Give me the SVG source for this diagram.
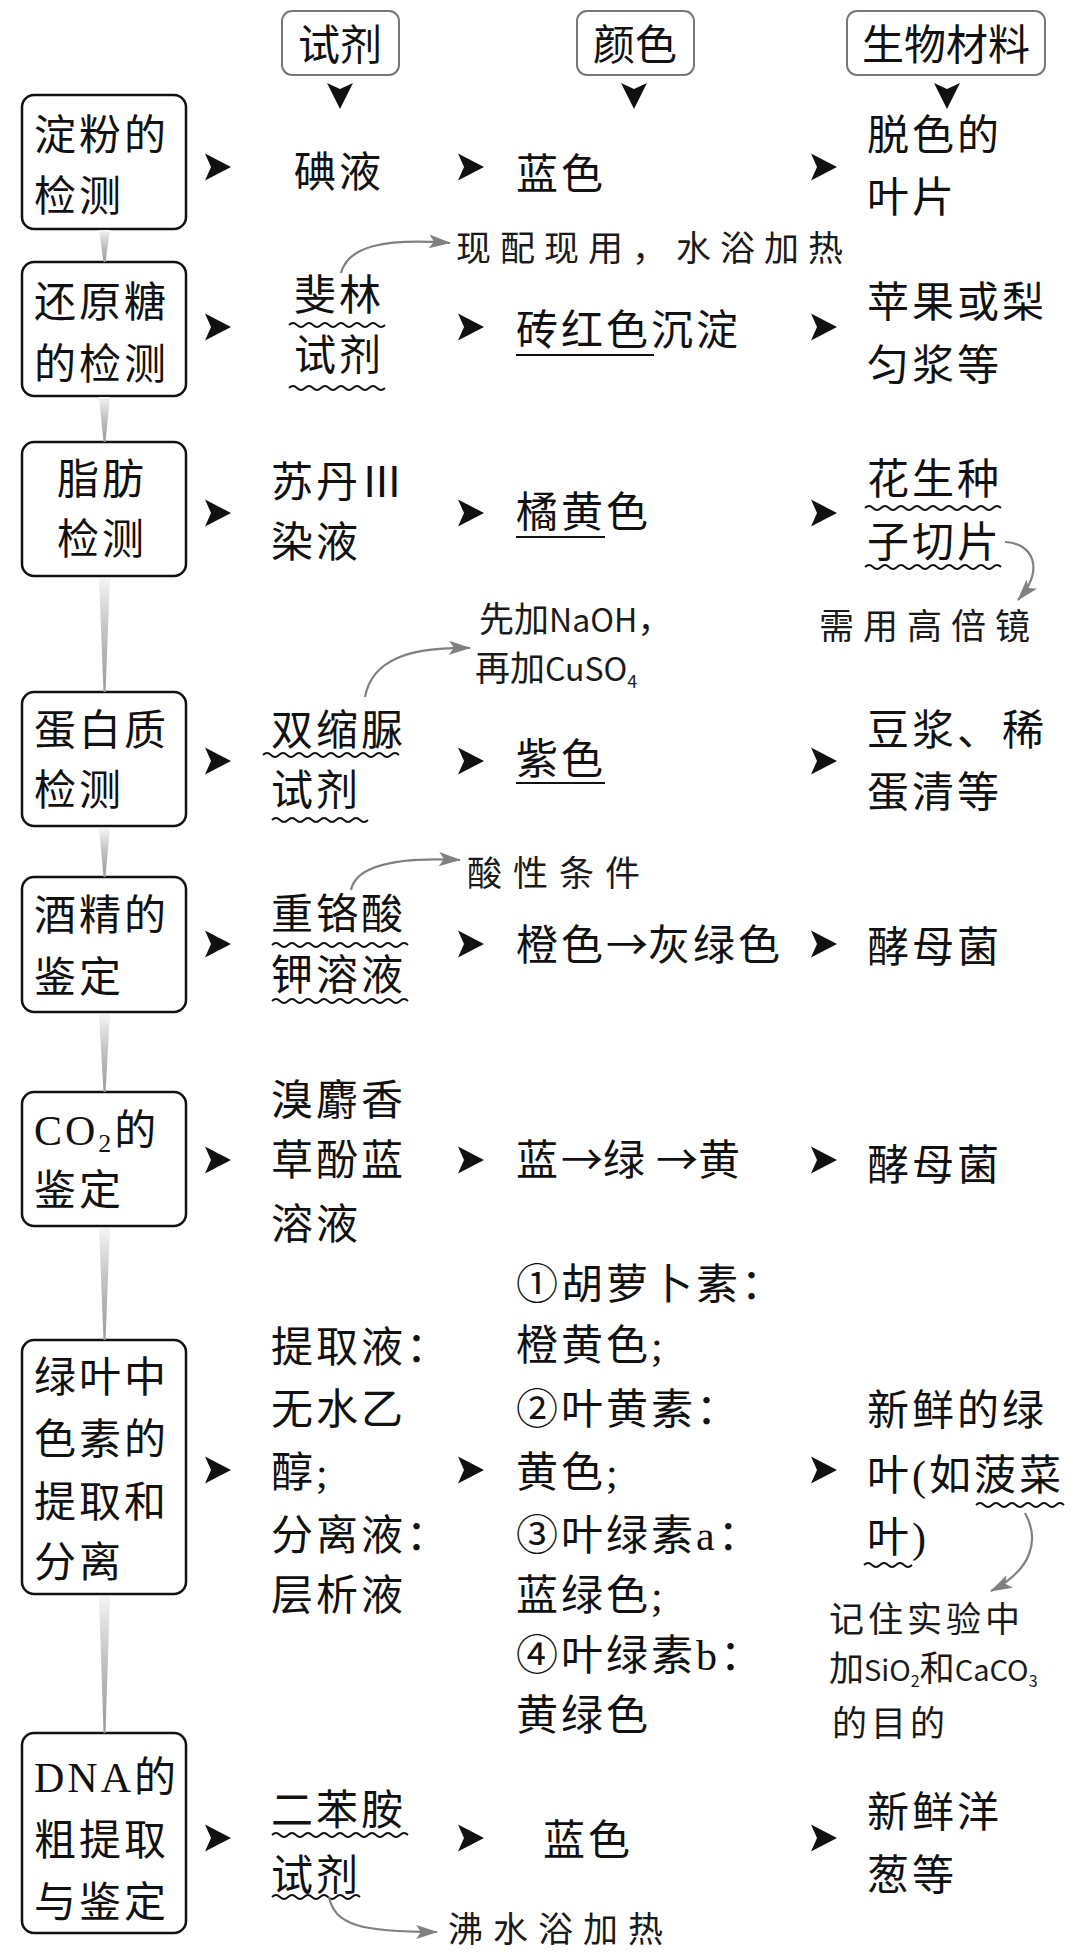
<svg xmlns="http://www.w3.org/2000/svg" width="1080" height="1957" viewBox="0 0 1080 1957">
<style>
.box{fill:#fff;stroke:#111;stroke-width:2.5}
.hbox{fill:#fff;stroke:#777;stroke-width:2}
.t{font-family:"Liberation Serif","Noto Sans CJK SC",serif;font-size:42px;letter-spacing:3px;fill:#111}
.hd{font-family:"Liberation Serif","Noto Sans CJK SC",serif;font-size:42px;fill:#111;text-anchor:middle}
.n{font-family:"Noto Sans CJK SC","Liberation Sans",sans-serif;font-size:35px;fill:#1a1a1a}
.ar2{font-family:"Noto Sans CJK SC",sans-serif;letter-spacing:0}
.ah{fill:#111}
.wave{fill:none;stroke:#111;stroke-width:1.8}
.ul{stroke:#111;stroke-width:2}
.note{fill:none;stroke:#808080;stroke-width:2.2}
.conn{fill:url(#gg)}
</style>
<defs>
<linearGradient id="gg" x1="0" y1="0" x2="0" y2="1">
<stop offset="0" stop-color="#f4f4f4"/>
<stop offset="0.45" stop-color="#c4c4c4"/>
<stop offset="1" stop-color="#9a9a9a"/>
</linearGradient>
<path id="ar" class="ah" d="M0,-13.5 L26,0 L0,13.5 L6,0 Z"/>
<path id="ard" class="ah" d="M-13,0 L0,26 L13,0 L0,6 Z"/>
<marker id="gm" markerUnits="userSpaceOnUse" markerWidth="24" markerHeight="16" refX="21" refY="7.5" orient="auto">
<path d="M0,0.5 L22,7.5 L0,14.5 L5,7.5 Z" fill="#808080"/>
</marker>
</defs>
<rect width="1080" height="1957" fill="#fff"/>

<!-- headers -->
<g id="hdr-reagent"><rect class="hbox" x="282" y="11" width="117" height="64" rx="10"/><text class="hd" x="340" y="60">试剂</text></g>
<g id="hdr-color"><rect class="hbox" x="577" y="11" width="117" height="64" rx="10"/><text class="hd" x="635" y="60">颜色</text></g>
<g id="hdr-material"><rect class="hbox" x="847" y="11" width="198" height="64" rx="10"/><text class="hd" x="946" y="60">生物材料</text></g>

<!-- left nodes -->
<g id="node-starch"><rect class="box" x="22" y="95" width="164" height="134" rx="12"/><text class="t" x="34" y="150">淀粉的</text><text class="t" x="34" y="211">检测</text></g>
<g id="node-sugar"><rect class="box" x="22" y="262" width="164" height="134" rx="12"/><text class="t" x="34" y="317">还原糖</text><text class="t" x="34" y="379">的检测</text></g>
<g id="node-fat"><rect class="box" x="22" y="442" width="164" height="134" rx="12"/><text class="t" x="57" y="494">脂肪</text><text class="t" x="57" y="554">检测</text></g>
<g id="node-protein"><rect class="box" x="22" y="692" width="164" height="134" rx="12"/><text class="t" x="34" y="745">蛋白质</text><text class="t" x="34" y="805">检测</text></g>
<g id="node-alcohol"><rect class="box" x="22" y="877" width="164" height="135" rx="12"/><text class="t" x="34" y="930">酒精的</text><text class="t" x="34" y="992">鉴定</text></g>
<g id="node-co2"><rect class="box" x="22" y="1092" width="164" height="134" rx="12"/><text class="t" x="34" y="1145">CO<tspan font-size="26" dy="7">2</tspan><tspan dy="-7">的</tspan></text><text class="t" x="34" y="1205">鉴定</text></g>
<g id="node-pigment"><rect class="box" x="22" y="1340" width="164" height="254" rx="12"/><text class="t" x="34" y="1392">绿叶中</text><text class="t" x="34" y="1454">色素的</text><text class="t" x="34" y="1517">提取和</text><text class="t" x="34" y="1577">分离</text></g>
<g id="node-dna"><rect class="box" x="22" y="1733" width="164" height="200" rx="12"/><text class="t" x="34" y="1792">DNA的</text><text class="t" x="34" y="1855">粗提取</text><text class="t" x="34" y="1917">与鉴定</text></g>

<!-- reagent column -->
<g id="reagent-1"><text class="t" x="294" y="187">碘液</text></g>
<g id="reagent-2"><text class="t" x="294" y="310">斐林</text><text class="t" x="294" y="370">试剂</text>
<path class="wave" d="M289,325 q4,-4 8,0 t8,0 t8,0 t8,0 t8,0 t8,0 t8,0 t8,0 t8,0 t8,0 t8,0 t8,0"/>
<path class="wave" d="M289,388 q4,-4 8,0 t8,0 t8,0 t8,0 t8,0 t8,0 t8,0 t8,0 t8,0 t8,0 t8,0 t8,0"/></g>
<g id="reagent-3"><text class="t" x="271" y="497">苏丹Ⅲ</text><text class="t" x="271" y="557">染液</text></g>
<g id="reagent-4"><text class="t" x="271" y="745">双缩脲</text><text class="t" x="271" y="805">试剂</text>
<path class="wave" d="M263,755 q4,-4 8,0 t8,0 t8,0 t8,0 t8,0 t8,0 t8,0 t8,0 t8,0 t8,0 t8,0 t8,0 t8,0 t8,0 t8,0 t8,0 t8,0"/>
<path class="wave" d="M272,820 q4,-4 8,0 t8,0 t8,0 t8,0 t8,0 t8,0 t8,0 t8,0 t8,0 t8,0 t8,0 t8,0"/></g>
<g id="reagent-5"><text class="t" x="271" y="929">重铬酸</text><text class="t" x="271" y="990">钾溶液</text>
<path class="wave" d="M272,945 q4,-4 8,0 t8,0 t8,0 t8,0 t8,0 t8,0 t8,0 t8,0 t8,0 t8,0 t8,0 t8,0 t8,0 t8,0 t8,0 t8,0 t8,0"/>
<path class="wave" d="M272,1001 q4,-4 8,0 t8,0 t8,0 t8,0 t8,0 t8,0 t8,0 t8,0 t8,0 t8,0 t8,0 t8,0 t8,0 t8,0 t8,0 t8,0 t8,0"/></g>
<g id="reagent-6"><text class="t" x="271" y="1115">溴麝香</text><text class="t" x="271" y="1175">草酚蓝</text><text class="t" x="271" y="1239">溶液</text></g>
<g id="reagent-7"><text class="t" x="271" y="1362">提取液：</text><text class="t" x="271" y="1424">无水乙</text><text class="t" x="271" y="1487">醇;</text><text class="t" x="271" y="1550">分离液：</text><text class="t" x="271" y="1610">层析液</text></g>
<g id="reagent-8"><text class="t" x="271" y="1825">二苯胺</text><text class="t" x="271" y="1890">试剂</text>
<path class="wave" d="M272,1835 q4,-4 8,0 t8,0 t8,0 t8,0 t8,0 t8,0 t8,0 t8,0 t8,0 t8,0 t8,0 t8,0 t8,0 t8,0 t8,0 t8,0 t8,0"/>
<path class="wave" d="M272,1897 q4,-4 8,0 t8,0 t8,0 t8,0 t8,0 t8,0 t8,0 t8,0 t8,0 t8,0 t8,0"/></g>

<!-- color column -->
<g id="color-1"><text class="t" x="516" y="189">蓝色</text></g>
<g id="color-2"><text class="t" x="516" y="345">砖红色沉淀</text><line class="ul" x1="516" y1="355" x2="654" y2="355"/></g>
<g id="color-3"><text class="t" x="516" y="527">橘黄色</text><line class="ul" x1="516" y1="537" x2="605" y2="537"/></g>
<g id="color-4"><text class="t" x="516" y="774">紫色</text><line class="ul" x1="516" y1="783" x2="605" y2="783"/></g>
<g id="color-5"><text class="t" x="516" y="960">橙色<tspan class="ar2">→</tspan>灰绿色</text></g>
<g id="color-6"><text class="t" x="516" y="1175">蓝<tspan class="ar2">→</tspan>绿<tspan class="ar2" dx="8">→</tspan>黄</text></g>
<g id="color-7"><text class="t" x="516" y="1299">①胡萝卜素：</text><text class="t" x="516" y="1360">橙黄色;</text><text class="t" x="516" y="1424">②叶黄素：</text><text class="t" x="516" y="1487">黄色;</text><text class="t" x="516" y="1550">③叶绿素a：</text><text class="t" x="516" y="1610">蓝绿色;</text><text class="t" x="516" y="1670">④叶绿素b：</text><text class="t" x="516" y="1730">黄绿色</text></g>
<g id="color-8"><text class="t" x="543" y="1855">蓝色</text></g>

<!-- material column -->
<g id="material-1"><text class="t" x="867" y="150">脱色的</text><text class="t" x="867" y="212">叶片</text></g>
<g id="material-2"><text class="t" x="867" y="317">苹果或梨</text><text class="t" x="867" y="380">匀浆等</text></g>
<g id="material-3"><text class="t" x="867" y="494">花生种</text><text class="t" x="867" y="557">子切片</text>
<path class="wave" d="M865,508 q4,-4 8,0 t8,0 t8,0 t8,0 t8,0 t8,0 t8,0 t8,0 t8,0 t8,0 t8,0 t8,0 t8,0 t8,0 t8,0 t8,0 t8,0"/>
<path class="wave" d="M865,567 q4,-4 8,0 t8,0 t8,0 t8,0 t8,0 t8,0 t8,0 t8,0 t8,0 t8,0 t8,0 t8,0 t8,0 t8,0 t8,0 t8,0 t8,0"/></g>
<g id="material-4"><text class="t" x="867" y="745">豆浆、稀</text><text class="t" x="867" y="807">蛋清等</text></g>
<g id="material-5"><text class="t" x="867" y="962">酵母菌</text></g>
<g id="material-6"><text class="t" x="867" y="1180">酵母菌</text></g>
<g id="material-7"><text class="t" x="867" y="1425">新鲜的绿</text><text class="t" x="867" y="1490">叶(如菠菜</text><text class="t" x="867" y="1552">叶)</text>
<path class="wave" d="M976,1505 q4,-4 8,0 t8,0 t8,0 t8,0 t8,0 t8,0 t8,0 t8,0 t8,0 t8,0 t8,0"/>
<path class="wave" d="M864,1565 q4,-4 8,0 t8,0 t8,0 t8,0 t8,0 t8,0"/></g>
<g id="material-8"><text class="t" x="867" y="1827">新鲜洋</text><text class="t" x="867" y="1890">葱等</text></g>

<!-- notes -->
<g id="note-1"><text class="n" x="456" y="261" letter-spacing="9">现配现用，水浴加热</text></g>
<g id="note-2"><text class="n" x="479" y="632">先加<tspan font-size="32">NaOH</tspan>，</text><text class="n" x="475" y="681">再加<tspan font-size="32">CuSO</tspan><tspan font-size="18" dy="7">4</tspan></text></g>
<g id="note-3"><text class="n" x="467" y="886" letter-spacing="11">酸性条件</text></g>
<g id="note-4"><text class="n" x="819" y="639" letter-spacing="9">需用高倍镜</text></g>
<g id="note-5"><text class="n" x="829" y="1632" letter-spacing="4">记住实验中</text><text class="n" x="829" y="1681">加<tspan font-size="29">SiO</tspan><tspan font-size="16" dy="6">2</tspan><tspan dy="-6">和</tspan><tspan font-size="29">CaCO</tspan><tspan font-size="16" dy="6">3</tspan></text><text class="n" x="832" y="1736" letter-spacing="4">的目的</text></g>
<g id="note-6"><text class="n" x="448" y="1942" letter-spacing="10">沸水浴加热</text></g>

<!-- connectors -->
<g id="connectors">
<polygon class="conn" points="99,230 110,230 105.5,262 103.5,262"/>
<polygon class="conn" points="99,397 110,397 105.5,442 103.5,442"/>
<polygon class="conn" points="99,578 110,578 105.5,692 103.5,692"/>
<polygon class="conn" points="99,828 110,828 105.5,877 103.5,877"/>
<polygon class="conn" points="99,1014 110,1014 105.5,1092 103.5,1092"/>
<polygon class="conn" points="99,1228 110,1228 105.5,1340 103.5,1340"/>
<polygon class="conn" points="99,1596 110,1596 105.5,1733 103.5,1733"/>

<use href="#ard" x="340" y="83"/>
<use href="#ard" x="634" y="83"/>
<use href="#ard" x="947" y="83"/>

<use href="#ar" x="205" y="167"/><use href="#ar" x="458" y="167"/><use href="#ar" x="811" y="167"/>
<use href="#ar" x="205" y="327"/><use href="#ar" x="458" y="327"/><use href="#ar" x="811" y="327"/>
<use href="#ar" x="205" y="513"/><use href="#ar" x="458" y="513"/><use href="#ar" x="811" y="513"/>
<use href="#ar" x="205" y="761"/><use href="#ar" x="458" y="761"/><use href="#ar" x="811" y="761"/>
<use href="#ar" x="205" y="944"/><use href="#ar" x="458" y="944"/><use href="#ar" x="811" y="944"/>
<use href="#ar" x="205" y="1160"/><use href="#ar" x="458" y="1160"/><use href="#ar" x="811" y="1160"/>
<use href="#ar" x="205" y="1470"/><use href="#ar" x="458" y="1470"/><use href="#ar" x="811" y="1470"/>
<use href="#ar" x="205" y="1838"/><use href="#ar" x="458" y="1838"/><use href="#ar" x="811" y="1838"/>

<path class="note" marker-end="url(#gm)" d="M341,273 C348,246 385,238 450,243"/>
<path class="note" marker-end="url(#gm)" d="M365,697 C372,660 408,647 470,648"/>
<path class="note" marker-end="url(#gm)" d="M351,890 C356,866 395,857 460,860"/>
<path class="note" marker-end="url(#gm)" d="M1005,542 C1032,543 1046,568 1018,600"/>
<path class="note" marker-end="url(#gm)" d="M1025,1513 C1040,1540 1032,1570 991,1591"/>
<path class="note" marker-end="url(#gm)" d="M329,1897 C335,1925 360,1932 437,1932"/>
</g>
</svg>
